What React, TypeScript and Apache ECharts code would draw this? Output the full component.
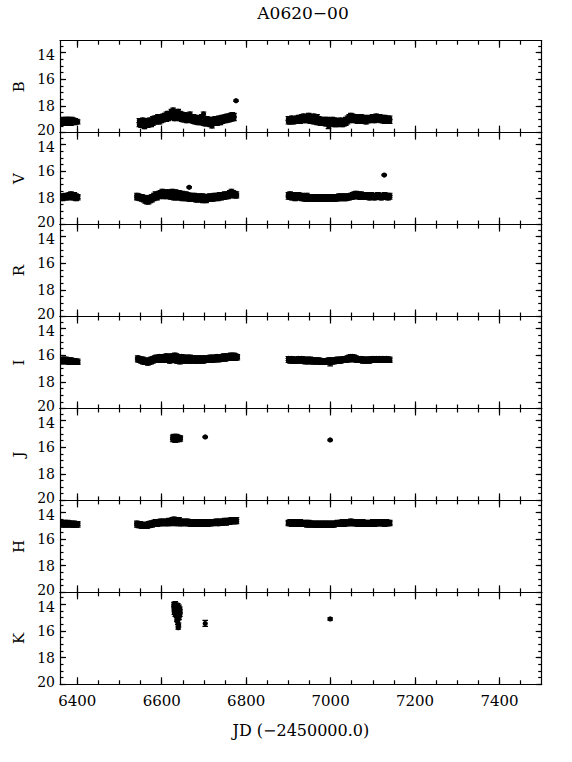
import React, { useEffect, useRef } from "react";
import * as echarts from "echarts";

const TITLE = "A0620\u221200";
const X_NAME = "JD (\u22122450000.0)";
const bandNames = ["B", "V", "R", "I", "J", "H", "K"];

const xMajor = [6400, 6600, 6800, 7000, 7200, 7400];
const xMinor = [6400, 6450, 6500, 6550, 6600, 6650, 6700, 6750, 6800, 6850, 6900, 6950, 7000, 7050, 7100, 7150, 7200, 7250, 7300, 7350, 7400, 7450];
const yMajor = [14, 16, 18, 20];
const yMinor = [13.5, 14, 14.5, 15, 15.5, 16, 16.5, 17, 17.5, 18, 18.5, 19, 19.5, 20];
const X_MIN = 6359, X_MAX = 7500, Y_MIN = 13.1, Y_MAX = 20;
const DEFAULT_ERR = 0.15;

// [JD, mag, (err)]
const dataB: number[][] = [
  [6361,19.2],[6363,19.05],[6365,19.3],[6367,19.0],[6369,19.25],[6371,19.05],[6373,19.3],[6375,19.0],[6377,19.2],[6379,19.0],[6381,19.25],[6383,19.05],[6385,19.3],[6387,19.0],[6389,19.2],[6391,19.05],[6393,19.25],[6395,19.1],[6397,19.2],[6399,19.15],[6401,19.2],
  [6547,19.1],[6547,19.4],[6551,19.2],[6551,19.45],[6555,19.05],[6555,19.35],[6559,19.2],[6559,19.55],[6563,19.1],[6563,19.4],[6567,19.15],[6567,19.45],[6571,19.05],[6571,19.35],[6575,19.1],[6575,19.4],[6579,18.95],[6579,19.3],[6583,18.9],[6583,19.2],[6587,18.9],[6587,19.2],[6591,18.8],[6591,19.15],[6595,18.95],[6595,19.2],[6599,18.8],[6599,19.1],[6603,18.75],[6603,19.05],[6607,18.7],[6607,19.0],[6611,18.6],[6611,19.0],[6615,18.55],[6615,18.95],[6619,18.6],[6619,18.9],[6623,18.4],[6623,18.85],[6627,18.3],[6627,18.8],[6631,18.45],[6631,18.95],[6635,18.6],[6635,18.9],[6639,18.4],[6639,18.85],[6643,18.55],[6643,18.95],[6647,18.6],[6647,19.0],[6651,18.7],[6651,19.05],[6655,18.65],[6655,19.0],[6659,18.75],[6659,19.1],[6663,18.7],[6663,19.05],[6667,18.6],[6667,19.0],[6671,18.8],[6671,19.1],[6675,18.8],[6675,19.15],[6679,18.9],[6679,19.2],[6683,18.85],[6683,19.2],[6687,18.95],[6687,19.25],[6691,18.9],[6691,19.2],[6695,18.8],[6695,19.25],[6699,18.6],[6699,19.3],[6703,19.0],[6703,19.35],[6707,18.95],[6707,19.25],[6711,19.05],[6711,19.35],[6715,19.0],[6715,19.4],[6719,19.05],[6719,19.5],[6723,19.0],[6723,19.3],[6727,18.95],[6727,19.25],[6731,19.0],[6731,19.3],[6735,18.9],[6735,19.2],[6739,18.95],[6739,19.25],[6743,18.85],[6743,19.15],[6747,18.85],[6747,19.1],[6751,18.8],[6751,19.1],[6755,18.75],[6755,19.05],[6759,18.8],[6759,19.05],[6763,18.7],[6763,19.0],[6767,18.65],[6767,18.95],[6771,18.7],[6771,18.95],[6776,17.6,0.05],
  [6900,18.95],[6900,19.2],[6904,19.0],[6904,19.2],[6908,18.9],[6908,19.15],[6912,18.95],[6912,19.2],[6916,19.0],[6916,19.15],[6920,18.9],[6920,19.1],[6924,18.85],[6924,19.1],[6928,18.95],[6928,19.15],[6932,18.8],[6932,19.05],[6936,18.75],[6936,19.1],[6940,18.85],[6940,19.05],[6944,18.8],[6944,19.1],[6948,18.7],[6948,19.0],[6952,18.85],[6952,19.15],[6956,18.8],[6956,19.1],[6960,18.75],[6960,19.2],[6964,18.9],[6964,19.15],[6968,18.8],[6968,19.25],[6972,18.95],[6972,19.2],[6976,19.0],[6976,19.3],[6980,19.05],[6980,19.3],[6984,19.0],[6988,19.1],[6988,19.35],[6992,19.0],[6992,19.25],[6995,19.5,0.2],[6996,19.05],[6996,19.3],[7000,19.1],[7000,19.35],[7004,19.0],[7004,19.3],[7008,19.1],[7008,19.4],[7012,19.05],[7012,19.3],[7016,19.1],[7016,19.4],[7020,19.15],[7020,19.35],[7024,19.05],[7024,19.3],[7028,19.1],[7028,19.4],[7032,19.15],[7032,19.35],[7036,19.0],[7036,19.3],[7040,18.9],[7040,19.2],[7044,18.8],[7044,19.1],[7048,18.7],[7048,19.0],[7052,18.75],[7052,19.05],[7056,18.85],[7056,19.1],[7060,18.8],[7060,19.05],[7064,18.9],[7064,19.15],[7068,18.85],[7068,19.1],[7072,18.8],[7072,19.0],[7076,18.9],[7076,19.15],[7080,18.85],[7080,19.05],[7084,18.95],[7084,19.2],[7088,18.9],[7088,19.1],[7092,18.85],[7092,19.1],[7096,18.9],[7096,19.05],[7100,18.8],[7100,19.05],[7104,18.85],[7104,19.1],[7108,18.75],[7108,19.0],[7112,18.85],[7112,19.05],[7116,18.8],[7116,19.05],[7120,18.85],[7120,19.1],[7124,18.9],[7124,19.1],[7128,18.85],[7128,19.15],[7132,18.9],[7132,19.1],[7136,18.95],[7136,19.15],[7140,18.9],[7140,19.15],
];

const dataV: number[][] = [
  [6361,17.85],[6361,18.0],[6365,17.9],[6365,18.05],[6369,17.85],[6369,18.0],[6373,17.8],[6373,17.95],[6377,17.85],[6377,18.0],[6381,17.75],[6381,17.95],[6385,17.7],[6385,17.9],[6389,17.8],[6389,18.0],[6393,17.75],[6393,17.95],[6397,17.85],[6397,18.05],[6401,17.9],[6401,18.0],
  [6541,17.8],[6541,18.0],[6545,17.85],[6545,18.0],[6549,17.9],[6549,18.05],[6553,17.9],[6553,18.1],[6557,17.95],[6557,18.15],[6561,18.0],[6561,18.25],[6565,18.05],[6565,18.3],[6569,18.0],[6569,18.3],[6573,17.95],[6573,18.2],[6577,17.9],[6577,18.15],[6581,17.8],[6581,18.05],[6585,17.7],[6585,17.95],[6589,17.75],[6589,18.0],[6593,17.65],[6593,17.9],[6597,17.6],[6597,17.85],[6601,17.5],[6601,17.85],[6605,17.6],[6605,17.9],[6609,17.55],[6609,17.8],[6613,17.65],[6613,17.9],[6617,17.55],[6617,17.85],[6621,17.6],[6621,17.95],[6625,17.5],[6625,17.9],[6629,17.6],[6629,18.0],[6633,17.55],[6633,17.95],[6637,17.65],[6637,18.0],[6641,17.6],[6641,17.95],[6645,17.7],[6645,18.0],[6649,17.65],[6649,18.05],[6653,17.75],[6653,18.0],[6657,17.7],[6657,18.05],[6661,17.75],[6661,18.05],[6665,17.2,0.05],[6665,17.8],[6665,18.1],[6669,17.8],[6669,18.1],[6673,17.85],[6673,18.05],[6677,17.8],[6677,18.1],[6681,17.85],[6681,18.15],[6685,17.9],[6685,18.15],[6689,17.85],[6689,18.1],[6693,17.9],[6693,18.15],[6697,17.85],[6697,18.2],[6701,17.9],[6701,18.15],[6705,17.95],[6705,18.2],[6709,17.9],[6709,18.1],[6713,17.85],[6713,18.1],[6717,17.9],[6717,18.05],[6721,17.85],[6721,18.1],[6725,17.8],[6725,18.05],[6729,17.85],[6729,18.0],[6733,17.8],[6733,18.05],[6737,17.75],[6737,17.95],[6741,17.8],[6741,18.0],[6745,17.75],[6745,17.95],[6749,17.7],[6749,17.95],[6753,17.75],[6753,17.9],[6757,17.7],[6757,17.9],[6761,17.6],[6761,17.85],[6765,17.5],[6765,17.75],[6769,17.6],[6769,17.8],[6773,17.65],[6773,17.85],[6777,17.7],[6777,17.85],
  [6900,17.75],[6900,17.95],[6904,17.7],[6904,17.9],[6908,17.8],[6908,18.0],[6912,17.75],[6912,17.95],[6916,17.85],[6916,18.05],[6920,17.8],[6920,18.0],[6924,17.75],[6924,17.95],[6928,17.85],[6928,18.0],[6932,17.8],[6932,18.05],[6936,17.9],[6936,18.05],[6940,17.85],[6940,18.1],[6944,17.8],[6944,18.0],[6948,17.95],[6948,18.1],[6952,17.9],[6952,18.05],[6956,17.95],[6956,18.1],[6960,17.9],[6960,18.1],[6964,17.95],[6964,18.1],[6968,17.9],[6968,18.05],[6972,17.95],[6972,18.1],[6976,17.9],[6976,18.1],[6980,17.95],[6980,18.05],[6984,17.9],[6984,18.1],[6988,17.95],[6988,18.1],[6992,17.9],[6992,18.05],[6996,17.95],[6996,18.1],[7000,17.9],[7000,18.05],[7004,17.95],[7004,18.1],[7008,17.9],[7008,18.05],[7012,17.95],[7012,18.1],[7016,17.9],[7016,18.05],[7020,17.85],[7020,18.05],[7024,17.9],[7024,18.05],[7028,17.85],[7028,18.0],[7032,17.9],[7032,18.05],[7036,17.85],[7036,18.05],[7040,17.9],[7040,18.0],[7044,17.85],[7044,18.0],[7048,17.8],[7048,17.95],[7052,17.75],[7052,17.95],[7056,17.7],[7056,17.9],[7060,17.65],[7060,17.85],[7064,17.7],[7064,17.9],[7068,17.75],[7068,17.95],[7072,17.7],[7072,17.9],[7076,17.8],[7076,17.95],[7080,17.75],[7080,17.9],[7084,17.8],[7084,17.95],[7088,17.75],[7088,17.9],[7092,17.8],[7092,18.0],[7096,17.75],[7096,17.95],[7100,17.8],[7100,17.95],[7104,17.85],[7104,18.0],[7108,17.8],[7108,17.95],[7112,17.75],[7112,17.9],[7116,17.8],[7116,17.95],[7120,17.85],[7120,18.0],[7124,17.8],[7124,17.95],[7127,16.28,0.05],[7128,17.75],[7128,17.95],[7132,17.8],[7132,17.95],[7136,17.85],[7136,18.0],[7140,17.8],[7140,17.95],
];

const dataR: number[][] = [];

const dataI: number[][] = [
  [6361,16.35],[6361,16.5],[6365,16.3],[6365,16.45],[6369,16.35],[6369,16.5],[6373,16.3],[6373,16.45],[6377,16.35],[6377,16.5],[6381,16.4],[6381,16.55],[6385,16.35],[6385,16.5],[6389,16.4],[6389,16.55],[6393,16.4],[6393,16.5],[6397,16.45],[6397,16.55],[6401,16.45],[6401,16.55],
  [6543,16.2],[6543,16.35],[6547,16.25],[6547,16.4],[6551,16.3],[6551,16.45],[6555,16.3],[6555,16.5],[6559,16.35],[6559,16.55],[6563,16.4],[6563,16.55],[6567,16.4],[6567,16.6],[6571,16.35],[6571,16.55],[6575,16.3],[6575,16.5],[6579,16.25],[6579,16.45],[6583,16.2],[6583,16.4],[6587,16.15],[6587,16.35],[6591,16.2],[6591,16.4],[6595,16.1],[6595,16.35],[6599,16.15],[6599,16.4],[6603,16.1],[6603,16.3],[6607,16.15],[6607,16.4],[6611,16.05],[6611,16.35],[6615,16.1],[6615,16.4],[6619,16.15],[6619,16.45],[6623,16.05],[6623,16.4],[6627,16.1],[6627,16.35],[6631,16.0],[6631,16.4],[6635,16.05],[6635,16.45],[6639,16.1],[6639,16.4],[6643,16.15],[6643,16.5],[6647,16.1],[6647,16.4],[6651,16.15],[6651,16.45],[6655,16.2],[6655,16.4],[6659,16.15],[6659,16.45],[6663,16.2],[6663,16.4],[6667,16.15],[6667,16.45],[6671,16.2],[6671,16.45],[6675,16.25],[6675,16.4],[6679,16.2],[6679,16.45],[6683,16.25],[6683,16.45],[6687,16.2],[6687,16.4],[6691,16.25],[6691,16.45],[6695,16.2],[6695,16.4],[6699,16.25],[6699,16.45],[6703,16.2],[6703,16.4],[6707,16.25],[6707,16.4],[6711,16.2],[6711,16.4],[6715,16.15],[6715,16.35],[6719,16.2],[6719,16.4],[6723,16.15],[6723,16.35],[6727,16.2],[6727,16.35],[6731,16.1],[6731,16.3],[6735,16.15],[6735,16.35],[6739,16.1],[6739,16.3],[6743,16.15],[6743,16.3],[6747,16.05],[6747,16.25],[6751,16.1],[6751,16.3],[6755,16.05],[6755,16.25],[6759,16.1],[6759,16.25],[6763,16.0],[6763,16.2],[6767,16.05],[6767,16.25],[6771,16.0],[6771,16.2],[6775,16.05],[6775,16.25],[6779,16.1],[6779,16.2],
  [6900,16.25],[6900,16.4],[6904,16.3],[6904,16.45],[6908,16.25],[6908,16.4],[6912,16.3],[6912,16.45],[6916,16.35],[6916,16.45],[6920,16.3],[6920,16.45],[6924,16.25],[6924,16.4],[6928,16.3],[6928,16.45],[6932,16.25],[6932,16.4],[6936,16.3],[6936,16.45],[6940,16.35],[6940,16.5],[6944,16.3],[6944,16.45],[6948,16.35],[6948,16.5],[6952,16.3],[6952,16.45],[6956,16.35],[6956,16.5],[6960,16.4],[6960,16.5],[6964,16.35],[6964,16.5],[6968,16.4],[6968,16.5],[6972,16.35],[6972,16.5],[6976,16.4],[6976,16.55],[6980,16.4],[6980,16.5],[6984,16.45],[6984,16.55],[6988,16.4],[6988,16.55],[6992,16.4],[6992,16.5],[6996,16.35],[6996,16.5],[6999,16.6,0.2],[7000,16.4],[7000,16.5],[7004,16.35],[7004,16.5],[7008,16.4],[7008,16.5],[7012,16.35],[7012,16.45],[7016,16.3],[7016,16.45],[7020,16.35],[7020,16.45],[7024,16.3],[7024,16.45],[7028,16.3],[7028,16.4],[7032,16.25],[7032,16.4],[7036,16.25],[7036,16.4],[7040,16.2],[7040,16.35],[7044,16.15],[7044,16.35],[7048,16.1],[7048,16.3],[7052,16.1],[7052,16.3],[7056,16.15],[7056,16.35],[7060,16.2],[7060,16.35],[7064,16.25],[7064,16.4],[7068,16.3],[7068,16.4],[7072,16.25],[7072,16.4],[7076,16.3],[7076,16.45],[7080,16.3],[7080,16.4],[7084,16.35],[7084,16.45],[7088,16.3],[7088,16.4],[7092,16.3],[7092,16.45],[7096,16.3],[7096,16.4],[7100,16.25],[7100,16.4],[7104,16.3],[7104,16.4],[7108,16.25],[7108,16.4],[7112,16.3],[7112,16.4],[7116,16.25],[7116,16.4],[7120,16.3],[7120,16.4],[7124,16.25],[7124,16.4],[7128,16.3],[7128,16.4],[7132,16.25],[7132,16.4],[7136,16.3],[7136,16.4],[7140,16.3],[7140,16.4],
];

const dataJ: number[][] = [
  [6626,15.25],[6626,15.45],[6629,15.2],[6629,15.4],[6632,15.25],[6632,15.5],[6635,15.2],[6635,15.45],[6638,15.25],[6638,15.4],[6641,15.3],[6641,15.45],[6644,15.3],[6644,15.4],
  [6703,15.24,0.05],[6999,15.46,0.05],
];

const dataH: number[][] = [
  [6361,14.75],[6361,14.9],[6365,14.8],[6365,14.95],[6369,14.75],[6369,14.9],[6373,14.8],[6373,14.95],[6377,14.75],[6377,14.9],[6381,14.8],[6381,14.95],[6385,14.8],[6385,14.9],[6389,14.85],[6389,14.95],[6393,14.8],[6393,14.95],[6397,14.85],[6397,14.95],[6401,14.85],[6401,14.95],
  [6541,14.8],[6541,14.95],[6545,14.85],[6545,15.0],[6549,14.85],[6549,15.0],[6553,14.9],[6553,15.05],[6557,14.9],[6557,15.05],[6561,14.95],[6561,15.05],[6565,14.9],[6565,15.05],[6569,14.85],[6569,15.0],[6573,14.8],[6573,14.95],[6577,14.8],[6577,14.95],[6581,14.75],[6581,14.9],[6585,14.7],[6585,14.85],[6589,14.75],[6589,14.9],[6593,14.7],[6593,14.85],[6597,14.65],[6597,14.85],[6601,14.7],[6601,14.85],[6605,14.65],[6605,14.8],[6609,14.7],[6609,14.85],[6613,14.65],[6613,14.85],[6617,14.6],[6617,14.8],[6621,14.65],[6621,14.85],[6625,14.55],[6625,14.8],[6629,14.5],[6629,14.8],[6633,14.55],[6633,14.85],[6637,14.6],[6637,14.8],[6641,14.55],[6641,14.85],[6645,14.65],[6645,14.85],[6649,14.7],[6649,14.85],[6653,14.65],[6653,14.8],[6657,14.7],[6657,14.85],[6661,14.65],[6661,14.85],[6665,14.7],[6665,14.85],[6669,14.75],[6669,14.9],[6673,14.7],[6673,14.85],[6677,14.75],[6677,14.9],[6681,14.7],[6681,14.85],[6685,14.75],[6685,14.9],[6689,14.7],[6689,14.9],[6693,14.75],[6693,14.9],[6697,14.7],[6697,14.85],[6701,14.75],[6701,14.9],[6705,14.7],[6705,14.85],[6709,14.75],[6709,14.9],[6713,14.7],[6713,14.85],[6717,14.75],[6717,14.85],[6721,14.7],[6721,14.85],[6725,14.7],[6725,14.8],[6729,14.65],[6729,14.8],[6733,14.7],[6733,14.85],[6737,14.65],[6737,14.8],[6741,14.7],[6741,14.8],[6745,14.65],[6745,14.8],[6749,14.6],[6749,14.75],[6753,14.65],[6753,14.8],[6757,14.6],[6757,14.75],[6761,14.6],[6761,14.75],[6765,14.55],[6765,14.7],[6769,14.6],[6769,14.7],[6773,14.55],[6773,14.7],[6777,14.55],[6777,14.7],
  [6900,14.75],[6900,14.85],[6904,14.7],[6904,14.85],[6908,14.75],[6908,14.9],[6912,14.7],[6912,14.85],[6916,14.75],[6916,14.9],[6920,14.7],[6920,14.85],[6924,14.75],[6924,14.9],[6928,14.7],[6928,14.85],[6932,14.75],[6932,14.9],[6936,14.8],[6936,14.9],[6940,14.75],[6940,14.9],[6944,14.8],[6944,14.95],[6948,14.75],[6948,14.9],[6952,14.8],[6952,14.95],[6956,14.8],[6956,14.9],[6960,14.85],[6960,14.95],[6964,14.8],[6964,14.95],[6968,14.85],[6968,14.95],[6972,14.8],[6972,14.95],[6976,14.85],[6976,14.95],[6980,14.8],[6980,14.95],[6984,14.85],[6984,14.95],[6988,14.8],[6988,14.95],[6992,14.85],[6992,14.95],[6996,14.8],[6996,14.95],[7000,14.85],[7000,14.95],[7004,14.8],[7004,14.95],[7008,14.85],[7008,14.95],[7012,14.8],[7012,14.9],[7016,14.75],[7016,14.9],[7020,14.8],[7020,14.9],[7024,14.75],[7024,14.9],[7028,14.7],[7028,14.85],[7032,14.75],[7032,14.9],[7036,14.7],[7036,14.85],[7040,14.75],[7040,14.85],[7044,14.7],[7044,14.85],[7048,14.65],[7048,14.8],[7052,14.7],[7052,14.85],[7056,14.75],[7056,14.85],[7060,14.7],[7060,14.85],[7064,14.75],[7064,14.9],[7068,14.7],[7068,14.85],[7072,14.75],[7072,14.9],[7076,14.7],[7076,14.85],[7080,14.75],[7080,14.9],[7084,14.8],[7084,14.9],[7088,14.75],[7088,14.9],[7092,14.8],[7092,14.9],[7096,14.75],[7096,14.85],[7100,14.7],[7100,14.85],[7104,14.75],[7104,14.9],[7108,14.7],[7108,14.85],[7112,14.75],[7112,14.85],[7116,14.7],[7116,14.85],[7120,14.75],[7120,14.85],[7124,14.7],[7124,14.85],[7128,14.75],[7128,14.9],[7132,14.7],[7132,14.85],[7136,14.75],[7136,14.85],[7140,14.75],[7140,14.85],
];

const dataK: number[][] = [
  [6629,14.0],[6629,14.2],[6630,14.4],[6630,14.6],[6632,13.95],[6632,14.15],[6632,14.35],[6632,14.55],[6632,14.75],[6635,14.05],[6635,14.25],[6635,14.45],[6635,14.65],[6635,14.85],[6638,14.1],[6638,14.3],[6638,14.5],[6638,14.7],[6638,14.9],[6641,14.2],[6641,14.4],[6641,14.6],[6641,14.8],[6641,15.0],[6643,14.35],[6643,14.55],[6643,14.75],
  [6636,15.2,0.1],[6638,15.35,0.15],[6640,15.55,0.15],[6639,15.75,0.12],
  [6703,15.43,0.22],[6999,15.1,0.08],
];

const bandData = [dataB, dataV, dataR, dataI, dataJ, dataH, dataK];

const FONT = "'DejaVu Serif', 'Liberation Serif', serif";

export default function App() {
  const ref = useRef<HTMLDivElement>(null);
  useEffect(() => {
    document.body.style.margin = "0";
    if (!ref.current) return;
    const chart = echarts.init(ref.current, undefined, { renderer: "svg" });

    const panelTop = 40.7;
    const panelH = 91.94;
    const left = 60;
    const right = 30.3;

    const grids: any[] = [];
    const xAxes: any[] = [];
    const yAxes: any[] = [];
    const series: any[] = [];

    const lineStyle = { color: "#000", width: 1.2 };

    const renderItem = (params: any, api: any) => {
      const x = api.value(0);
      const m = api.value(1);
      const e = api.value(2);
      const c = api.coord([x, m]);
      const t = api.coord([x, m - e]);
      const b = api.coord([x, m + e]);
      const cap = 2.8;
      const st = { stroke: "#000", lineWidth: 1.2 };
      return {
        type: "group",
        children: [
          { type: "line", shape: { x1: c[0], y1: t[1], x2: c[0], y2: b[1] }, style: st },
          { type: "line", shape: { x1: c[0] - cap, y1: t[1], x2: c[0] + cap, y2: t[1] }, style: st },
          { type: "line", shape: { x1: c[0] - cap, y1: b[1], x2: c[0] + cap, y2: b[1] }, style: st },
          { type: "circle", shape: { cx: c[0], cy: c[1], r: 2.6 }, style: { fill: "#000" } },
        ],
      };
    };

    const yLabelFormatter = (v: number) => {
      if (v === 20) return `{lo|${v}}`;
      if (v === 14) return `{hi|${v}}`;
      return `{n|${v}}`;
    };
    const yLabelRich = {
      lo: { fontFamily: FONT, fontSize: 14, color: "#000", padding: [0, 0, 5, 0] },
      hi: { fontFamily: FONT, fontSize: 14, color: "#000", padding: [5, 0, 0, 0] },
      n: { fontFamily: FONT, fontSize: 14, color: "#000" },
    };

    bandNames.forEach((name, i) => {
      grids.push({ left, right, top: panelTop + i * panelH, height: panelH, containLabel: false });
      const isLast = i === bandNames.length - 1;
      const xBase = {
        gridIndex: i, type: "value", min: X_MIN, max: X_MAX,
        splitLine: { show: false },
      };
      xAxes.push({
        ...xBase, position: "bottom",
        axisLine: { show: true, lineStyle },
        axisTick: { show: true, inside: true, length: 7, customValues: xMajor, lineStyle },
        axisLabel: {
          show: isLast, customValues: xMajor, color: "#000", fontFamily: FONT, fontSize: 15, margin: 9,
          formatter: (v: number) => String(v),
        },
        name: isLast ? X_NAME : "",
        nameLocation: "middle", nameGap: 38,
        nameTextStyle: { color: "#000", fontFamily: FONT, fontSize: 16 },
      });
      xAxes.push({
        ...xBase, position: "bottom",
        axisLine: { show: false },
        axisTick: { show: true, inside: true, length: 4, customValues: xMinor, lineStyle },
        axisLabel: { show: false },
      });
      xAxes.push({
        ...xBase, position: "top",
        axisLine: { show: true, lineStyle },
        axisTick: { show: true, inside: true, length: 7, customValues: xMajor, lineStyle },
        axisLabel: { show: false },
      });
      xAxes.push({
        ...xBase, position: "top",
        axisLine: { show: false },
        axisTick: { show: true, inside: true, length: 4, customValues: xMinor, lineStyle },
        axisLabel: { show: false },
      });

      const yBase = {
        gridIndex: i, type: "value", min: Y_MIN, max: Y_MAX, inverse: true,
        splitLine: { show: false },
      };
      yAxes.push({
        ...yBase, position: "left",
        axisLine: { show: true, lineStyle },
        axisTick: { show: true, inside: true, length: 6, customValues: yMajor, lineStyle },
        axisLabel: {
          show: true, customValues: yMajor, color: "#000", fontFamily: FONT, fontSize: 14, margin: 5,
          formatter: yLabelFormatter, rich: yLabelRich,
        },
        name, nameLocation: "middle", nameGap: 31, nameRotate: 90,
        nameTextStyle: { color: "#000", fontFamily: FONT, fontSize: 15 },
      });
      yAxes.push({
        ...yBase, position: "left",
        axisLine: { show: false },
        axisTick: { show: true, inside: true, length: 3.5, customValues: yMinor, lineStyle },
        axisLabel: { show: false },
      });
      yAxes.push({
        ...yBase, position: "right",
        axisLine: { show: true, lineStyle },
        axisTick: { show: true, inside: true, length: 6, customValues: yMajor, lineStyle },
        axisLabel: { show: false },
      });
      yAxes.push({
        ...yBase, position: "right",
        axisLine: { show: false },
        axisTick: { show: true, inside: true, length: 3.5, customValues: yMinor, lineStyle },
        axisLabel: { show: false },
      });

      const pts = bandData[i];
      if (pts.length) {
        series.push({
          type: "custom",
          name,
          xAxisIndex: i * 4,
          yAxisIndex: i * 4,
          renderItem,
          clip: true,
          encode: { x: 0, y: 1 },
          data: pts.map((p) => [p[0], p[1], p.length > 2 ? p[2] : DEFAULT_ERR]),
        });
      }
    });

    chart.setOption({
      animation: false,
      backgroundColor: "#fff",
      grid: grids,
      xAxis: xAxes,
      yAxis: yAxes,
      series,
      graphic: [
        {
          type: "text",
          x: 303,
          y: 13,
          style: {
            text: TITLE, fill: "#000", font: `17px ${FONT}`,
            textAlign: "center", textVerticalAlign: "middle",
          },
        },
      ],
    });

    return () => chart.dispose();
  }, []);

  return <div ref={ref} style={{ width: 572, height: 762 }} />;
}
